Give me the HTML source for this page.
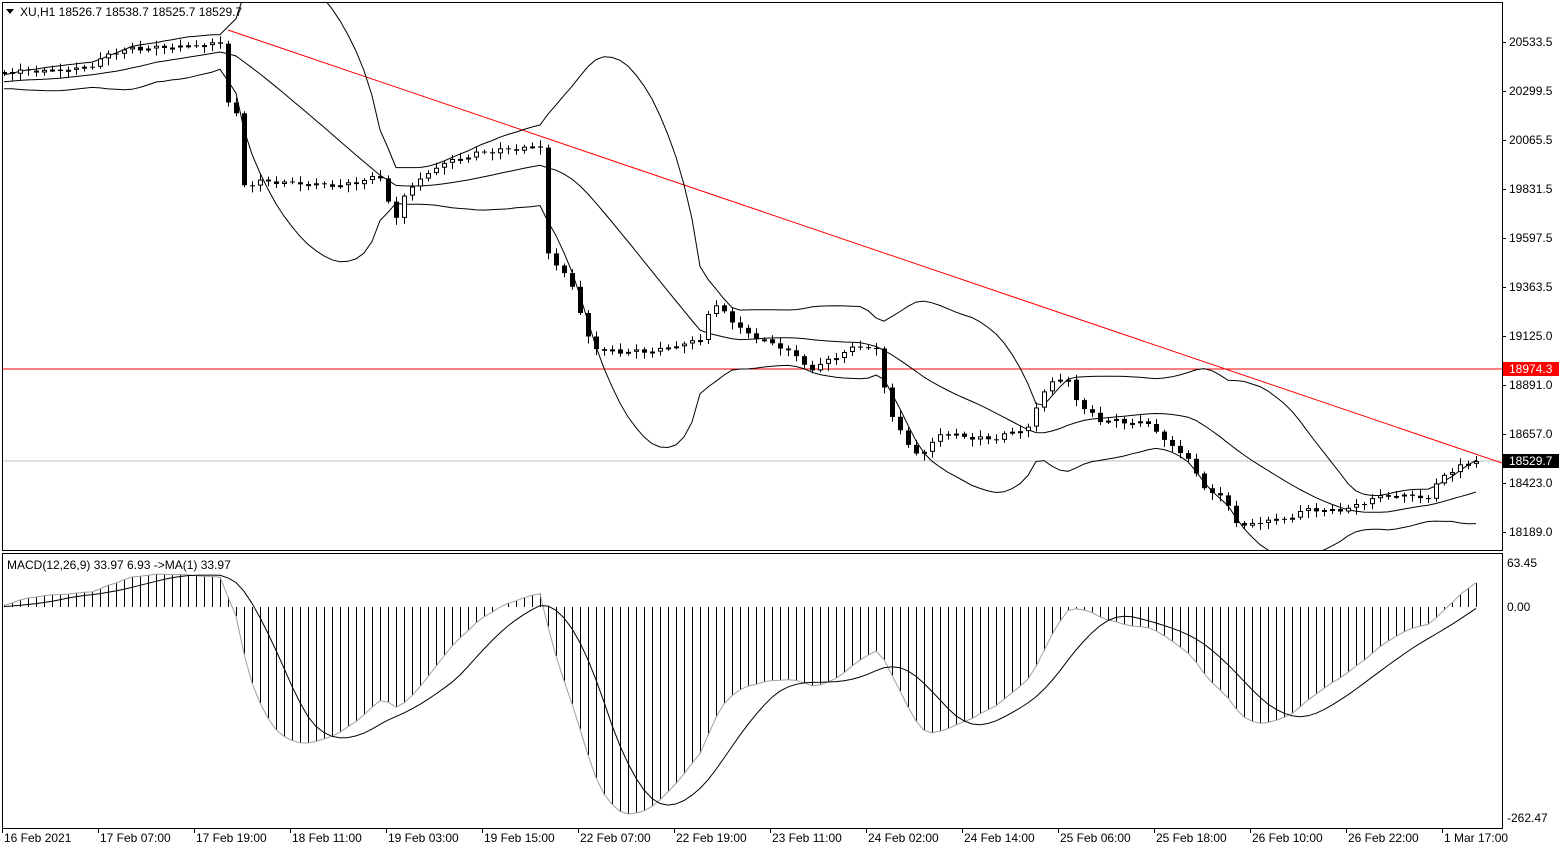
<!DOCTYPE html>
<html><head><meta charset="utf-8"><style>
html,body{margin:0;padding:0;background:#fff;}
svg{display:block;font-family:"Liberation Sans",sans-serif;}
</style></head><body>
<svg id="s" width="1566" height="850" xmlns="http://www.w3.org/2000/svg"></svg>
<script>
(function(){
var S=document.getElementById('s');var out='';
function L(x1,y1,x2,y2,c,w){out+='<line x1="'+x1+'" y1="'+y1+'" x2="'+x2+'" y2="'+y2+'" stroke="'+(c||'#000')+'" stroke-width="'+(w||1)+'"/>';}
function T(x,y,t,a,c,sz){out+='<text x="'+x+'" y="'+y+'" font-size="'+(sz||12)+'" fill="'+(c||'#000')+'"'+(a?' text-anchor="'+a+'"':'')+'>'+t+'</text>';}
var K=[[4,72],[60,72],[90,68],[100,60],[120,50],[160,46],[220,42],[228,100],[236,115],[244,185],[260,182],[300,185],[340,187],[380,176],[395,222],[405,190],[420,178],[440,162],[480,152],[540,148],[548,255],[556,268],[570,280],[580,315],[590,345],[605,352],[650,350],[700,338],[710,305],[722,308],[740,330],[760,340],[790,353],[810,372],[830,360],[860,345],[876,350],[884,385],[892,415],[905,440],[920,455],[940,432],[990,440],[1030,428],[1040,398],[1052,382],[1068,382],[1080,408],[1100,420],[1150,422],[1165,440],[1190,458],[1200,485],[1215,492],[1230,508],[1240,530],[1255,523],[1290,520],[1305,510],[1330,512],[1360,505],[1370,497],[1400,493],[1430,497],[1440,475],[1460,466],[1477,461]];
function interp(x){for(var i=0;i<K.length-1;i++){if(x<=K[i+1][0]){var t=(x-K[i][0])/(K[i+1][0]-K[i][0]);return K[i][1]+t*(K[i+1][1]-K[i][1]);}}return K[K.length-1][1];}
var N=185,C=[],X=[];
var pre=[];for(var i=0;i<40;i++)pre.push(82+4*Math.sin(i*0.7));
for(var i=0;i<N;i++){var x=4+8*i;X.push(x);C.push(interp(x)+2.5*Math.sin(i*2.3)*(i%3?1:-1));}
C[N-1]=461;
var all=pre.concat(C);
var cand='';
for(var i=0;i<N;i++){var o=i?C[i-1]:C[0]+2,c=C[i];var big=Math.abs(c-o);var hi=Math.min(o,c)-2-(i*7%5),lo=Math.max(o,c)+2+(i*11%6);
 var x=X[i];cand+='<line x1="'+(x+0.5)+'" y1="'+hi.toFixed(1)+'" x2="'+(x+0.5)+'" y2="'+lo.toFixed(1)+'" stroke="#000"/>';
 var bt=Math.min(o,c),h=Math.max(1,big);
 if(c>o)cand+='<rect x="'+(x-2)+'" y="'+bt.toFixed(1)+'" width="5" height="'+h.toFixed(1)+'" fill="#000"/>';
 else cand+='<rect x="'+(x-1.5)+'" y="'+(bt+0.5).toFixed(1)+'" width="4" height="'+Math.max(1,h-1).toFixed(1)+'" fill="#fff" stroke="#000"/>';}
var up=[],mid=[],lw=[];
for(var i=0;i<N;i++){var j=i+40,s=0;for(var k=j-19;k<=j;k++)s+=all[k];var m=s/20,v=0;for(var k=j-19;k<=j;k++)v+=(all[k]-m)*(all[k]-m);var sd=Math.sqrt(v/20);mid.push(m);up.push(m-2*sd);lw.push(m+2*sd);}
function poly(a,c){var p=[];for(var i=0;i<N;i++)p.push(X[i]+','+a[i].toFixed(1));return '<polyline points="'+p.join(' ')+'" fill="none" stroke="'+(c||'#000')+'" stroke-width="1"/>';}
out+='<defs><clipPath id="cm"><rect x="2" y="2" width="1500" height="548"/></clipPath><clipPath id="cd"><rect x="2" y="554" width="1500" height="274"/></clipPath></defs>';
out+='<g clip-path="url(#cm)">';
L(2,461,1502,461,'#c0c0c0');L(2,369,1502,369,'#ff0000');L(228,30,1502,463,'#ff0000');
out+=poly(up)+poly(mid)+poly(lw)+cand+'</g>';
function ema(a,n){var k=2/(n+1),r=[a[0]];for(var i=1;i<a.length;i++)r.push(a[i]*k+r[i-1]*(1-k));return r;}
var e12=ema(all,12),e26=ema(all,26),md=[];for(var i=0;i<all.length;i++)md.push(-(e12[i]-e26[i]));
var sig=[];for(var i=0;i<all.length;i++){var s=0,n=0;for(var k=Math.max(0,i-8);k<=i;k++){s+=md[k];n++;}sig.push(s/n);}
var f=4.0;out+='<g clip-path="url(#cd)">';
var sp=[];for(var i=0;i<N;i++){var v=md[i+40]*f;L(X[i]+0.5,607,X[i]+0.5,(607-v).toFixed(1),'#000');sp.push(X[i]+','+(607-sig[i+40]*f).toFixed(1));}
var mp=[];for(var i=0;i<N;i++)mp.push(X[i]+','+(607-md[i+40]*f).toFixed(1));
out+='<polyline points="'+mp.join(' ')+'" fill="none" stroke="#a0a0a0"/>';
out+='<polyline points="'+sp.join(' ')+'" fill="none" stroke="#000"/></g>';
out+='<rect x="2.5" y="2.5" width="1500" height="548" fill="none" stroke="#000"/>';
out+='<rect x="2.5" y="553.5" width="1500" height="275" fill="none" stroke="#000"/>';
var pa=[['20533.5',42],['20299.5',91],['20065.5',140],['19831.5',189],['19597.5',238],['19363.5',287],['19125.0',336],['18891.0',385],['18657.0',434],['18423.0',483],['18189.0',532]];
pa.forEach(function(p){L(1502,p[1]+0.5,1506,p[1]+0.5);T(1509,p[1]+4,p[0],null,'#000',12);});
out+='<rect x="1503" y="362" width="56" height="14" fill="#ff0000"/>';T(1509,373,'18974.3',null,'#fff',12);
out+='<rect x="1503" y="454" width="56" height="14" fill="#000"/>';T(1509,465,'18529.7',null,'#fff',12);
T(1507,567,'63.45');T(1507,611,'0.00');T(1507,822,'-262.47');
var tl=['16 Feb 2021','17 Feb 07:00','17 Feb 19:00','18 Feb 11:00','19 Feb 03:00','19 Feb 15:00','22 Feb 07:00','22 Feb 19:00','23 Feb 11:00','24 Feb 02:00','24 Feb 14:00','25 Feb 06:00','25 Feb 18:00','26 Feb 10:00','26 Feb 22:00','1 Mar 17:00'];
tl.forEach(function(t,i){var x=2+96*i;L(x+0.5,829,x+0.5,833);T(x+2,842,t);});
out+='<polygon points="6,9 14,9 10,14" fill="#000"/>';
T(20,16,'XU,H1  18526.7 18538.7 18525.7 18529.7',null,'#000',12);
T(7,569,'MACD(12,26,9) 33.97 6.93  -&gt;MA(1) 33.97',null,'#000',12);
S.innerHTML=out;
})();
</script>
</body></html>
